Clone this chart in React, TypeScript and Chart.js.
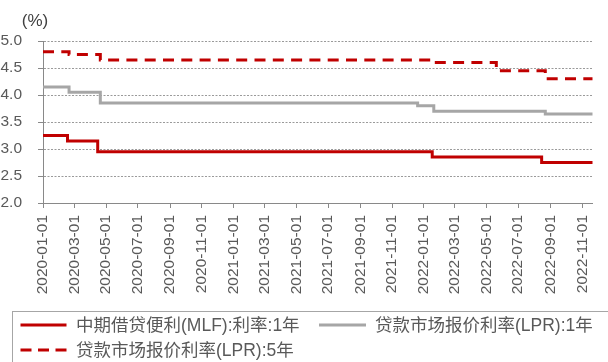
import React, { useEffect, useRef } from "react";
import { Chart, registerables } from "chart.js";

Chart.register(...registerables);

// ---- data ----
const unitLabel = "(%)";
const axisStart = "2020-01-01";
const axisEnd = "2022-11-21";
const xTickLabels = [
  "2020-01-01", "2020-03-01", "2020-05-01", "2020-07-01", "2020-09-01", "2020-11-01",
  "2021-01-01", "2021-03-01", "2021-05-01", "2021-07-01", "2021-09-01", "2021-11-01",
  "2022-01-01", "2022-03-01", "2022-05-01", "2022-07-01", "2022-09-01", "2022-11-01",
];
const yTickValues = [2.0, 2.5, 3.0, 3.5, 4.0, 4.5, 5.0];

const mlfLabel = "中期借贷便利(MLF):利率:1年";
const mlfDates = ["2020-01-01", "2020-02-17", "2020-04-15", "2022-01-17", "2022-08-15", "2022-11-21"];
const mlfValues = [3.25, 3.15, 2.95, 2.85, 2.75, 2.75];

const lpr1Label = "贷款市场报价利率(LPR):1年";
const lpr1Dates = ["2020-01-01", "2020-02-20", "2020-04-20", "2021-12-20", "2022-01-20", "2022-08-22", "2022-11-21"];
const lpr1Values = [4.15, 4.05, 3.85, 3.8, 3.7, 3.65, 3.65];

const lpr5Label = "贷款市场报价利率(LPR):5年";
const lpr5Dates = ["2020-01-01", "2020-02-20", "2020-04-20", "2022-01-20", "2022-05-20", "2022-08-22", "2022-11-21"];
const lpr5Values = [4.8, 4.75, 4.65, 4.6, 4.45, 4.3, 4.3];

// ---- helpers ----
const DAY = 86400000;
const dayIndex = (s: string) =>
  (Date.parse(s + "T00:00:00Z") - Date.parse(axisStart + "T00:00:00Z")) / DAY;
const toPoints = (dates: string[], values: number[]) =>
  dates.map((d, i) => ({ x: dayIndex(d), y: values[i] }));

const FONT = "'Liberation Sans', Arial, 'Noto Sans CJK SC', sans-serif";
const RED = "#C00000";
const GREY_LINE = "#A6A6A6";
const AXIS = "#898989";
const TEXT = "#595959";

const unitPlugin = {
  id: "unitLabel",
  afterDraw(chart: any) {
    const ctx = chart.ctx;
    ctx.save();
    ctx.font = `17px ${FONT}`;
    ctx.fillStyle = "#404040";
    ctx.textAlign = "center";
    ctx.textBaseline = "middle";
    ctx.fillText(unitLabel, 35, 21.5);
    ctx.restore();
  },
};

export default function App() {
  const ref = useRef<HTMLCanvasElement | null>(null);

  useEffect(() => {
    if (!ref.current) return;
    const chart = new Chart(ref.current, {
      type: "line",
      data: {
        datasets: [
          {
            label: mlfLabel,
            data: toPoints(mlfDates, mlfValues),
            borderColor: RED,
            backgroundColor: RED,
            borderWidth: 3,
            stepped: true,
            pointRadius: 0,
            fill: false,
            borderJoinStyle: "miter",
          },
          {
            label: lpr1Label,
            data: toPoints(lpr1Dates, lpr1Values),
            borderColor: GREY_LINE,
            backgroundColor: GREY_LINE,
            borderWidth: 3,
            stepped: true,
            pointRadius: 0,
            fill: false,
            borderJoinStyle: "miter",
          },
          {
            label: lpr5Label,
            data: toPoints(lpr5Dates, lpr5Values),
            borderColor: RED,
            backgroundColor: RED,
            borderWidth: 3,
            borderDash: [11, 7.3],
            stepped: true,
            pointRadius: 0,
            fill: false,
            borderJoinStyle: "miter",
          },
        ],
      } as any,
      options: {
        animation: false,
        responsive: false,
        devicePixelRatio: 1,
        layout: { padding: { top: 41, right: 6, bottom: 0, left: 0 } },
        plugins: { legend: { display: false }, tooltip: { enabled: false } },
        scales: {
          x: {
            type: "linear",
            min: dayIndex(axisStart),
            max: dayIndex(axisEnd),
            afterBuildTicks: (s: any) => {
              s.ticks = xTickLabels.map((l) => ({ value: dayIndex(l) }));
            },
            afterFit: (s: any) => {
              s.height = 102;
            },
            ticks: {
              autoSkip: false,
              minRotation: 90,
              maxRotation: 90,
              padding: 7,
              color: TEXT,
              font: { family: FONT, size: 15.5 },
              callback: (_v: any, i: number) => xTickLabels[i],
            },
            grid: {
              drawOnChartArea: false,
              drawTicks: true,
              tickLength: 5,
              color: AXIS,
              tickColor: AXIS,
            },
            border: { display: true, color: AXIS, width: 1 },
          },
          y: {
            type: "linear",
            min: 2,
            max: 5,
            afterBuildTicks: (s: any) => {
              s.ticks = yTickValues.map((v) => ({ value: v }));
            },
            afterFit: (s: any) => {
              s.width = 43;
            },
            ticks: {
              padding: 16,
              color: TEXT,
              font: { family: FONT, size: 15.5 },
              callback: (v: any) => Number(v).toFixed(1),
            },
            grid: {
              color: "#9a9a9a",
              lineWidth: 1,
              tickLength: 5,
              tickColor: AXIS,
              tickBorderDash: [],
            },
            border: { display: true, color: AXIS, width: 1, dash: [2, 1.5] },
          },
        },
      } as any,
      plugins: [unitPlugin],
    });
    return () => chart.destroy();
  }, []);

  const textStyle = (left: number, cy: number): React.CSSProperties => ({
    position: "absolute",
    left,
    top: cy - 10,
    lineHeight: "20px",
    fontSize: "17.5px",
    fontFamily: FONT,
    color: TEXT,
    whiteSpace: "nowrap",
  });

  return (
    <div
      style={{
        position: "fixed",
        left: 0,
        top: 0,
        width: 608,
        height: 362,
        overflow: "hidden",
        background: "#fff",
      }}
    >
      <canvas
        ref={ref}
        width={608}
        height={305}
        style={{ position: "absolute", left: 0, top: 0, width: 608, height: 305 }}
      />
      <div
        style={{
          position: "absolute",
          left: 12,
          top: 311,
          width: 640,
          height: 80,
          border: "1px solid #a6a6a6",
          boxSizing: "border-box",
        }}
      />
      <svg
        width={608}
        height={362}
        style={{ position: "absolute", left: 0, top: 0, pointerEvents: "none" }}
      >
        <line x1={20.5} y1={325} x2={66.5} y2={325} stroke={RED} strokeWidth={3} />
        <line x1={319} y1={325} x2={366} y2={325} stroke={GREY_LINE} strokeWidth={3} />
        <line
          x1={20.5}
          y1={350}
          x2={66.5}
          y2={350}
          stroke={RED}
          strokeWidth={3}
          strokeDasharray="11 6.5"
        />
      </svg>
      <span style={textStyle(76, 325)}>{mlfLabel}</span>
      <span style={textStyle(375, 325)}>{lpr1Label}</span>
      <span style={textStyle(76, 350)}>{lpr5Label}</span>
    </div>
  );
}
